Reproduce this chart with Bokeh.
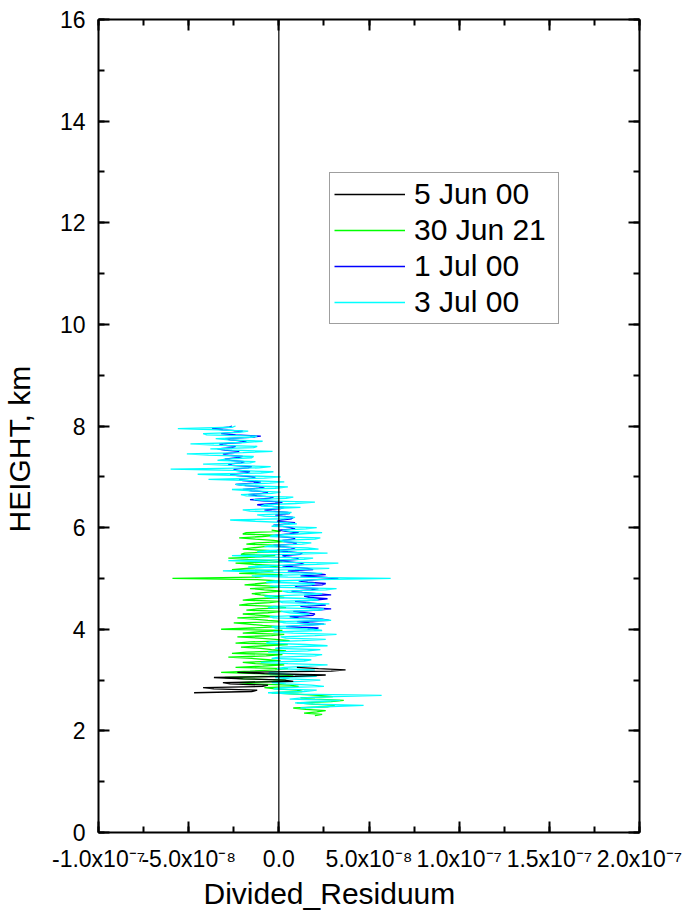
from bokeh.embed import file_html
from bokeh.models import (ColumnDataSource, CustomJSTickFormatter, Legend, LegendItem,
                          LinearAxis, Range1d, SingleIntervalTicker, Span, Title)
from bokeh.plotting import figure
from bokeh.resources import INLINE

# Height grid of the profiles, km
HEIGHT_KM = [
    2.300, 2.325, 2.350, 2.375, 2.400, 2.425, 2.450, 2.475,
    2.500, 2.525, 2.550, 2.575, 2.600, 2.625, 2.650, 2.675,
    2.700, 2.725, 2.750, 2.775, 2.800, 2.825, 2.850, 2.875,
    2.900, 2.925, 2.950, 2.975, 3.000, 3.025, 3.050, 3.075,
    3.100, 3.125, 3.150, 3.175, 3.200, 3.225, 3.250, 3.275,
    3.300, 3.325, 3.350, 3.375, 3.400, 3.425, 3.450, 3.475,
    3.500, 3.525, 3.550, 3.575, 3.600, 3.625, 3.650, 3.675,
    3.700, 3.725, 3.750, 3.775, 3.800, 3.825, 3.850, 3.875,
    3.900, 3.925, 3.950, 3.975, 4.000, 4.025, 4.050, 4.075,
    4.100, 4.125, 4.150, 4.175, 4.200, 4.225, 4.250, 4.275,
    4.300, 4.325, 4.350, 4.375, 4.400, 4.425, 4.450, 4.475,
    4.500, 4.525, 4.550, 4.575, 4.600, 4.625, 4.650, 4.675,
    4.700, 4.725, 4.750, 4.775, 4.800, 4.825, 4.850, 4.875,
    4.900, 4.925, 4.950, 4.975, 5.000, 5.025, 5.050, 5.075,
    5.100, 5.125, 5.150, 5.175, 5.200, 5.225, 5.250, 5.275,
    5.300, 5.325, 5.350, 5.375, 5.400, 5.425, 5.450, 5.475,
    5.500, 5.525, 5.550, 5.575, 5.600, 5.625, 5.650, 5.675,
    5.700, 5.725, 5.750, 5.775, 5.800, 5.825, 5.850, 5.875,
    5.900, 5.925, 5.950, 5.975, 6.000, 6.025, 6.050, 6.075,
    6.100, 6.125, 6.150, 6.175, 6.200, 6.225, 6.250, 6.275,
    6.300, 6.325, 6.350, 6.375, 6.400, 6.425, 6.450, 6.475,
    6.500, 6.525, 6.550, 6.575, 6.600, 6.625, 6.650, 6.675,
    6.700, 6.725, 6.750, 6.775, 6.800, 6.825, 6.850, 6.875,
    6.900, 6.925, 6.950, 6.975, 7.000, 7.025, 7.050, 7.075,
    7.100, 7.125, 7.150, 7.175, 7.200, 7.225, 7.250, 7.275,
    7.300, 7.325, 7.350, 7.375, 7.400, 7.425, 7.450, 7.475,
    7.500, 7.525, 7.550, 7.575, 7.600, 7.625, 7.650, 7.675,
    7.700, 7.725, 7.750, 7.775, 7.800, 7.825, 7.850, 7.875,
    7.900, 7.925, 7.950, 7.975, 8.000,
]

SERIES_LABELS = ["5 Jun 00", "30 Jun 21", "1 Jul 00", "3 Jul 00"]

# Divided residuum of each sounding, in units of 1e-8, from the given start height up
JUN05_START = 2.75
JUN05_RES = [
    -4.7, -1.5, -1.2, -3.6, -4.2, -0.9, -0.6, -2.7, -3.1, 0.8,
    0.3, -2.0, -3.6, 0.9, 2.6, -0.8, -2.3, 2.9, 3.7, 2.2,
    1.0,
]

JUN30_START = 2.30
JUN30_RES = [
    2.0, 2.4, 1.4, 2.1, 2.6, 1.5, 0.8, 2.7, 3.1, 1.9,
    1.0, 2.9, 3.6, 2.0, 1.2, 3.0, 2.2, 0.9, -0.4, 1.3,
    1.0, -0.2, -0.8, 1.1, 0.6, -1.4, -2.2, -0.3, 0.4, -1.9,
    -3.0, -0.5, 0.8, -1.1, -3.2, -1.6, -0.2, 0.5, -2.4, -0.9,
    0.3, -1.3, -2.0, 0.1, -0.6, -1.5, -2.8, -0.7, 0.2, -2.6,
    -1.8, 0.4, -0.4, -1.0, -2.1, -0.8, 0.5, -2.4, -1.6, 0.6,
    -0.2, -1.1, -2.3, -0.4, 0.3, -2.0, -1.2, 0.2, -3.2, -1.5,
    0.1, -0.9, -1.7, -2.5, 0.4, -0.6, -1.4, -2.3, -0.1, -1.0,
    -2.0, -0.6, 0.2, -1.8, -1.2, 0.4, -0.2, -2.2, -1.7, -0.5,
    0.1, -2.0, -1.3, 0.3, -0.3, -1.0, -1.5, -0.7, 0.2, -0.8,
    -1.6, 0.0, -0.4, -1.9, -1.1, -0.3, 0.1, -1.2, -5.9, -1.1,
    -0.6, 0.2, -2.2, -1.0, -0.3, -2.6, -1.8, -0.5, 0.0, -1.4,
    -2.4, 0.2, -0.5, -1.7, -2.8, -1.0, -0.2, -2.1, -1.9, -0.1,
    -0.6, -2.0, -1.5, -0.8, 0.1, -1.8, -1.2, 0.3, -0.3, -1.3,
    -2.2, -0.9, -0.2, -2.0, -1.8, 0.1, -0.4,
]

JUL01_START = 4.00
JUL01_RES = [
    1.6, 2.2, 0.4, 1.3, 2.5, 1.7, 1.0, 2.8, 2.4, 1.1,
    0.6, 1.9, 2.0, 1.4, 0.8, 2.2, 2.9, 1.8, 1.2, 2.6,
    2.3, 1.5, 0.9, 2.0, 2.7, 1.7, 1.4, 2.9, 2.1, 1.3,
    0.7, 1.8, 2.2, 0.9, 1.0, 2.4, 2.6, 1.6, 1.1, 2.1,
    3.3, 2.4, 1.2, 2.6, 2.0, 1.1, 0.5, 1.9, 1.6, 0.8,
    0.2, 1.4, 1.2, 0.6, 0.0, 1.1, 1.0, 0.4, 0.2, 1.2,
    1.3, 0.5, -0.1, 0.7, 0.9, 0.1, -0.3, 0.8, 1.0, 0.3,
    0.2, 0.9, 0.8, 0.0, -0.2, 0.6, 1.1, 0.4, 0.0, 0.9,
    0.7, 0.2, -0.3, 0.5, 0.9, -0.1, 0.1, 0.7, 0.8, 0.2,
    -0.2, 0.6, 0.5, -0.4, -0.8, 0.1, 0.3, -0.6, -1.2, -0.2,
    0.2, -0.9, -1.6, -0.5, -0.3, -1.2, -1.7, -0.9, -0.6, -1.5,
    -2.0, -1.1, -0.8, -1.8, -2.4, -1.4, -1.0, -2.0, -2.2, -1.5,
    -1.3, -2.3, -2.7, -1.8, -1.6, -2.4, -2.5, -1.7, -1.5, -2.6,
    -2.8, -2.1, -1.9, -2.7, -3.0, -2.3, -2.0, -2.8, -3.1, -2.5,
    -2.2, -3.0, -3.4, -2.6, -2.4, -3.1, -3.3, -2.1, -1.8, -2.7,
    -3.0, -1.6, -1.0, -2.4, -3.2, -2.5, -2.0, -3.1, -3.7, -2.8,
    -2.6,
]

JUL03_START = 2.45
JUL03_RES = [
    1.2, 2.6, 4.7, 2.0, 0.9, 2.3, 3.4, 0.6, 1.3, 3.1,
    5.7, 1.1, -0.6, 1.4, 2.1, -0.3, 0.2, 2.5, 1.8, 0.4,
    -0.4, 1.2, 2.3, 0.6, -0.2, 2.1, 1.6, -0.6, -0.5, 1.0,
    2.0, -0.1, 0.3, 1.7, 2.7, 0.5, -1.0, 1.4, 1.8, -0.4,
    0.0, 2.0, 2.4, 0.3, -0.6, 1.6, 2.3, -0.2, 0.2, 2.7,
    1.5, -0.7, -0.5, 1.3, 2.6, 0.4, 0.1, 2.0, 3.2, 0.8,
    -0.3, 2.4, 1.9, -0.2, -0.4, 1.5, 2.6, 0.3, 0.0, 2.9,
    2.2, -0.3, -0.5, 1.2, 1.7, 0.6, 0.1, 2.3, 2.5, -0.6,
    -0.3, 1.6, 2.8, 0.2, 0.0, 2.2, 1.9, -0.4, -0.8, 1.4,
    2.4, 0.5, 0.2, 2.6, 3.2, 0.1, -0.5, 1.8, 2.0, -0.7,
    -0.2, 2.2, 6.2, 0.5, -1.5, 1.3, 2.4, -0.8, -3.1, 0.9,
    2.8, -1.7, -1.0, 2.1, 3.3, -0.6, -2.8, 1.4, 1.9, -0.9,
    -2.6, 0.7, 2.7, -1.2, -0.5, 2.2, 1.6, -0.8, -0.4, 1.3,
    1.8, 0.3, 0.0, 2.0, 2.3, -0.5, -0.3, 1.1, 2.4, 0.6,
    0.2, 1.5, 2.1, -0.4, -0.2, 1.0, 0.4, -1.3, -2.7, 0.3,
    0.9, -0.8, -1.2, 0.5, 0.7, -1.6, -2.0, -0.3, 1.2, -1.0,
    -0.8, 0.9, 2.0, -0.6, -1.4, 0.4, 0.8, -1.8, -2.1, -0.4,
    0.1, -1.5, -2.6, -0.2, 0.5, -1.9, -2.4, -0.5, 0.3, -1.6,
    -3.9, -0.8, 0.1, -2.2, -4.5, -1.0, -0.3, -2.5, -6.0, -1.1,
    -0.45, -2.7, -4.2, -1.6, -1.3, -3.4, -2.95, -1.5, -1.4, -3.9,
    -5.1, -2.0, -0.35, -2.6, -3.8, -1.4, -1.2, -3.6, -4.9, -1.9,
    -0.9, -2.8, -3.5, -1.5, -1.2, -4.0, -4.2, -2.2, -1.7, -3.3,
    -5.6, -2.6, -2.4,
]

FONT = "Liberation Sans"


def profile(start, res_e8):
    i0 = HEIGHT_KM.index(start)
    heights = HEIGHT_KM[i0:i0 + len(res_e8)]
    return ColumnDataSource(data=dict(x=[v * 1e-8 for v in res_e8], y=heights))


p = figure(frame_width=541, frame_height=813,
           x_range=Range1d(-1e-7, 2e-7), y_range=Range1d(0, 16),
           x_axis_type=None, y_axis_type=None,
           min_border_left=98, min_border_right=50,
           min_border_top=19, min_border_bottom=78,
           output_backend="svg", toolbar_location=None)
p.background_fill_color = "white"
p.border_fill_color = "white"
p.outline_line_color = None

# mantissa x 10^exponent labels with a superscript exponent
sci_fmt = CustomJSTickFormatter(code=r"""
if (Math.abs(tick) < 1e-20) { return "0.0"; }
const e = Math.floor(Math.log10(Math.abs(tick)) + 1e-9);
const m = tick / Math.pow(10, e);
const sup = {"-": "\u207B", "0": "\u2070", "1": "\u00B9", "2": "\u00B2", "3": "\u00B3",
             "4": "\u2074", "5": "\u2075", "6": "\u2076", "7": "\u2077", "8": "\u2078", "9": "\u2079"};
let s = "";
for (const c of String(e)) { s += sup[c]; }
return m.toFixed(1) + "x10" + s;
""")
blank_fmt = CustomJSTickFormatter(code="return '';")


def style_axis(ax, show_labels):
    ax.axis_line_color = "black"
    ax.axis_line_width = 2
    ax.major_tick_line_color = "black"
    ax.minor_tick_line_color = "black"
    ax.major_tick_line_width = 2
    ax.minor_tick_line_width = 2
    ax.major_tick_in = 11
    ax.major_tick_out = 0
    ax.minor_tick_in = 6
    ax.minor_tick_out = 0
    if show_labels:
        ax.major_label_text_font = FONT
        ax.major_label_text_font_size = "23px"
        ax.major_label_text_color = "black"
    else:
        ax.major_label_text_font_size = "1px"
        ax.major_label_standoff = 0


x_ticker = SingleIntervalTicker(interval=5e-8, num_minor_ticks=2)
y_ticker = SingleIntervalTicker(interval=2, num_minor_ticks=2)

x_bottom = LinearAxis(ticker=x_ticker, formatter=sci_fmt)
style_axis(x_bottom, True)
x_bottom.major_label_standoff = 13
x_top = LinearAxis(ticker=x_ticker, formatter=blank_fmt)
style_axis(x_top, False)
y_left = LinearAxis(ticker=y_ticker)
style_axis(y_left, True)
y_left.major_label_standoff = 13
y_right = LinearAxis(ticker=y_ticker, formatter=blank_fmt)
style_axis(y_right, False)

# bare axis that only keeps a gap between the tick labels and the vertical title
y_gap = LinearAxis(ticker=y_ticker, formatter=blank_fmt,
                   axis_line_color=None, major_tick_line_color=None,
                   minor_tick_line_color=None, major_tick_out=0, minor_tick_out=0,
                   major_label_text_font_size="1px", major_label_standoff=0,
                   axis_label=" ", axis_label_text_font_size="12px",
                   axis_label_standoff=4)

p.add_layout(x_bottom, "below")
p.add_layout(x_top, "above")
p.add_layout(y_left, "left")
p.add_layout(y_gap, "left")
p.add_layout(y_right, "right")

p.add_layout(Title(text="Divided_Residuum", align="left", offset=105,
                   text_font=FONT, text_font_size="30px", text_font_style="normal",
                   text_color="black", standoff=0), "below")
p.add_layout(Title(text="HEIGHT, km", align="left", offset=300,
                   text_font=FONT, text_font_size="30px", text_font_style="normal",
                   text_color="black", standoff=0), "left")

r_jun30 = p.line("x", "y", source=profile(JUN30_START, JUN30_RES),
                 line_color="#00FF00", line_width=1.3)
r_jul01 = p.line("x", "y", source=profile(JUL01_START, JUL01_RES),
                 line_color="#0000FF", line_width=1.3)
r_jul03 = p.line("x", "y", source=profile(JUL03_START, JUL03_RES),
                 line_color="#00FFFF", line_width=1.3)
r_jun05 = p.line("x", "y", source=profile(JUN05_START, JUN05_RES),
                 line_color="#000000", line_width=1.3)

# zero reference line
p.add_layout(Span(location=0, dimension="height", line_color="black", line_width=1.2))

legend = Legend(items=[LegendItem(label=SERIES_LABELS[0], renderers=[r_jun05]),
                       LegendItem(label=SERIES_LABELS[1], renderers=[r_jun30]),
                       LegendItem(label=SERIES_LABELS[2], renderers=[r_jul01]),
                       LegendItem(label=SERIES_LABELS[3], renderers=[r_jul03])],
                location=(231, 508))
legend.label_text_font = FONT
legend.label_text_font_size = "30px"
legend.label_text_color = "black"
legend.glyph_width = 71
legend.glyph_height = 20
legend.label_standoff = 9
legend.label_width = 140
legend.padding = 4
legend.spacing = 2
legend.border_line_color = "#404040"
legend.border_line_width = 1
legend.background_fill_color = "white"
legend.background_fill_alpha = 1
p.add_layout(legend)

open("out.html", "w").write(file_html(p, INLINE, title="Divided residuum profiles"))
